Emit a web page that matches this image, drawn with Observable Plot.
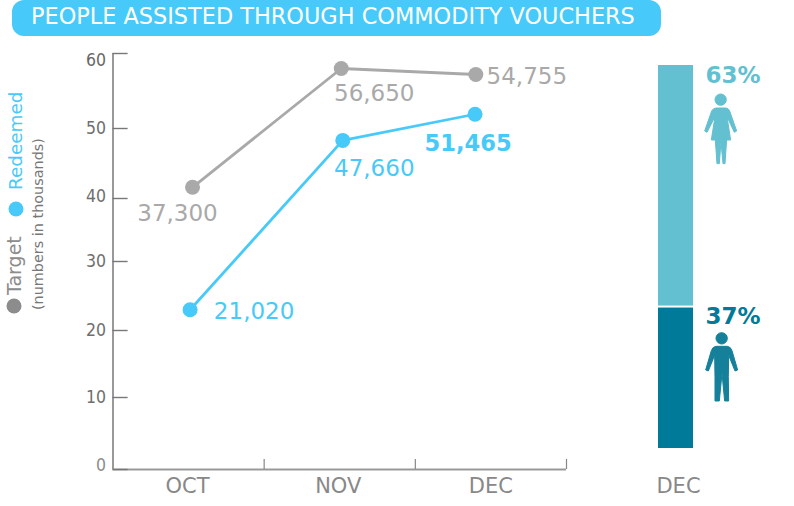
<!DOCTYPE html>
<html><head><meta charset="utf-8">
<script src="https://cdn.jsdelivr.net/npm/d3@7"></script>
<script src="https://cdn.jsdelivr.net/npm/@observablehq/plot@0.6"></script>
<style>
html,body{margin:0;padding:0;background:#fff;width:794px;height:506px;overflow:hidden}
#title{position:absolute;left:12px;top:0;width:649px;height:36px;box-sizing:border-box;padding-left:19px;background:#47caf9;border-radius:12px;color:#fff;font:22.4px/33px "DejaVu Sans";white-space:nowrap}
#row{position:absolute;left:0;top:36px;display:flex}
#overlay{position:absolute;left:0;top:0}
</style></head><body>
<div id="title">PEOPLE ASSISTED THROUGH COMMODITY VOUCHERS</div>
<div id="row"></div>
<svg id="overlay" width="794" height="506" font-family="DejaVu Sans">
  <circle cx="14" cy="306" r="7.5" fill="#8c8c8c"/>
  <text transform="translate(21,295) rotate(-90)" font-size="19" fill="#8c8c8c">Target</text>
  <circle cx="16" cy="209" r="7.5" fill="#47caf9"/>
  <text transform="translate(22,190) rotate(-90)" font-size="18.4" fill="#47caf9">Redeemed</text>
  <text transform="translate(43,310) rotate(-90)" font-size="14.4" fill="#777">(numbers in thousands)</text>
  <g transform="translate(620,50) scale(.3333)" fill="#62c0d0" stroke="#62c0d0" stroke-width="3" stroke-linejoin="round">
    <circle cx="302" cy="149" r="17"/>
    <path d="M288 174H318Q326 175 329 183L350 243 343 247 321 200 332 270H320L315 341H309L303 275 298 341H291L286 270H274L285 200 261 247 254 243 275 183Q279 175 288 174Z"/>
  </g>
  <g transform="translate(620,290) scale(.3333)" fill="#15809a" stroke="#15809a" stroke-width="3" stroke-linejoin="round">
    <circle cx="305" cy="145" r="17"/>
    <path d="M288 169H322Q332 170 336 182L353 240 345 243 326 196 325 260 326 333H314L306 250 298 333H285L285 260 284 196 265 243 257 240 274 182Q278 170 288 169Z"/>
  </g>
</svg>
<script>
const font = '"DejaVu Sans Condensed","DejaVu Sans"';
const plain = '"DejaVu Sans"';
const months = ["OCT", "NOV", "DEC"];
const bandEdges = [1, 2, 3];
const monthCentres = [0.5, 1.5, 2.5];
const monthNudge = [-1, -1.5, 0];
const targetX = [0.526, 1.51, 2.4];
const redeemedX = [0.51, 1.52, 2.395];
const targetPlot = [41.6, 58, 57.2];
const redeemedPlot = [23, 48.3, 51.9];
const targetLabels = ["37,300", "56,650", "54,755"];
const redeemedLabels = ["21,020", "47,660", "51,465"];
const targetLabelOffset = [[-15, 26], [33, 25], [51, 2]];
const redeemedLabelOffset = [[64, 2], [31.5, 28], [-7, 30]];
const axisTicks = [0, 10, 20, 30, 40, 50, 60];
const axisRange = [433, 361, 294, 225, 162, 92, 17];
const shares = [37, 63];
const shareTops = [37, 100];
const shareLabels = ["37%", "63%"];
const shareColors = ["#007a99", "#62c0d0"];
const shareLabelDy = [10, 11.5];

const gray = "#a9a9a9", blue = "#47caf9";
const labelMarks = (xs, ys, labels, offs, fill, boldIndex) => labels.map((t, i) =>
  Plot.text([t], {x: [xs[i]], y: [ys[i]], text: d => d, dx: offs[i][0], dy: offs[i][1], fill,
    fontSize: i === boldIndex ? 22.6 : 23, fontWeight: i === boldIndex ? "bold" : "normal",
    fontFamily: plain, textAnchor: "middle"}));

const idx = d3.range(3);
const monthMarks = monthCentres.map((c, i) => Plot.text([c], {x: d => d, y: 0, text: () => months[i], dx: monthNudge[i], dy: 17, fontSize: 21, fontFamily: plain, fill: "#888"}));
const left = Plot.plot({
  width: 620, height: 470, marginTop: 17, marginBottom: 37, marginLeft: 112, marginRight: 54,
  style: {fontFamily: font, background: "transparent", overflow: "visible"},
  x: {type: "linear", domain: [0, 3], range: [112.5, 566], axis: null},
  y: {type: "linear", domain: axisTicks, range: axisRange, axis: null},
  marks: [
    Plot.ruleX([0], {y1: 0, y2: 60, stroke: "#999", strokeWidth: 2}),
    Plot.ruleY([0], {x1: 0, x2: 3, stroke: "#999", strokeWidth: 2}),
    Plot.ruleY(axisTicks, {y: d => d, x1: 0, x2: 0.1, stroke: "#777", strokeWidth: 1.4}),
    Plot.text([10, 20, 30, 50], {x: 0, y: d => d, text: d => String(d), dx: -7, textAnchor: "end", fontSize: 17.5, fill: "#6e6e6e"}),
    Plot.text([60], {x: 0, y: d => d, text: d => String(d), dx: -7, dy: 7, textAnchor: "end", fontSize: 17.5, fill: "#666"}),
    Plot.text([40], {x: 0, y: d => d, text: d => String(d), dx: -7, dy: -2, textAnchor: "end", fontSize: 17.5, fill: "#6e6e6e"}),
    Plot.text([0], {x: 0, y: d => d, text: d => String(d), dx: -7, dy: -4, textAnchor: "end", fontSize: 17.5, fill: "#8c8c8c"}),
    Plot.ruleX(bandEdges, {x: d => d, y1: 0, y2: 1.4, stroke: "#888", strokeWidth: 1.2}),
    ...monthMarks,
    Plot.line(idx, {x: i => targetX[i], y: i => targetPlot[i], stroke: gray, strokeWidth: 2.8}),
    Plot.line(idx, {x: i => redeemedX[i], y: i => redeemedPlot[i], stroke: blue, strokeWidth: 2.8}),
    Plot.dot(idx, {x: i => targetX[i], y: i => targetPlot[i], r: 7.5, fill: gray}),
    Plot.dot(idx, {x: i => redeemedX[i], y: i => redeemedPlot[i], r: 7.5, fill: blue}),
    ...labelMarks(targetX, targetPlot, targetLabels, targetLabelOffset, gray, -1),
    ...labelMarks(redeemedX, redeemedPlot, redeemedLabels, redeemedLabelOffset, blue, 2)
  ]
});

const shareTextMarks = shares.map((s, i) => Plot.text([i], {x: () => "DEC", y: () => shareTops[i], text: () => shareLabels[i], fill: shareColors[i],
  dx: 57, dy: shareLabelDy[i], fontSize: 23, fontWeight: "bold", fontFamily: plain}));
const right = Plot.plot({
  width: 174, height: 470, marginTop: 28, marginBottom: 37, marginLeft: 38, marginRight: 101,
  style: {fontFamily: font, background: "transparent", overflow: "visible"},
  x: {type: "band", domain: ["DEC"], padding: 0, range: [38, 73], axis: null},
  y: {type: "linear", domain: [0, 100], range: [413, 28], axis: null},
  marks: [
    Plot.barY(d3.range(2), {x: () => "DEC", y: i => shares[i], fill: i => shareColors[i], insetTop: 1, insetBottom: 1}),
    ...shareTextMarks,
    Plot.text(["DEC"], {x: d => d, y: 0, text: d => d, dx: 2.5, dy: 37, fontSize: 21, fontFamily: plain, fill: "#888"})
  ]
});
document.getElementById("row").append(left, right);
</script></body></html>
